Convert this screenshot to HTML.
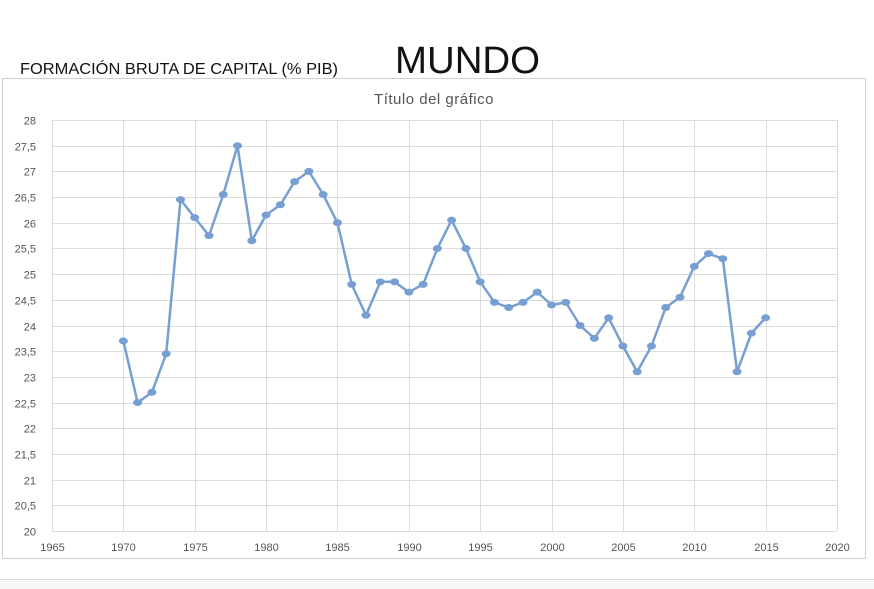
<!DOCTYPE html>
<html><head><meta charset="utf-8"><style>
body{margin:0;background:#fff;width:874px;height:589px;overflow:hidden}
svg{display:block}
text{font-family:"Liberation Sans",sans-serif}
</style></head><body>
<svg width="874" height="589" viewBox="0 0 874 589" xmlns="http://www.w3.org/2000/svg">
<rect width="874" height="589" fill="#fff"/>
<text x="20" y="74" font-size="16" fill="#111" textLength="318" lengthAdjust="spacingAndGlyphs">FORMACIÓN BRUTA DE CAPITAL  (% PIB)</text>
<text x="395" y="73" font-size="38" fill="#111" textLength="145" lengthAdjust="spacingAndGlyphs">MUNDO</text>
<rect x="2.5" y="78.5" width="863" height="480" fill="#fff" stroke="#d0d0d0"/>
<line x1="0" y1="579.5" x2="874" y2="579.5" stroke="#ddd"/>
<rect x="0" y="580" width="874" height="9" fill="#f8f8fa"/>
<text x="434" y="104" font-size="15" fill="#555" text-anchor="middle" letter-spacing="0.5">Título del gráfico</text>
<g id="grid" stroke="#dcdcdc" stroke-width="1"></g>
<g id="lab" font-size="11" fill="#555"></g>
<polyline id="ln" fill="none" stroke="#779fd2" stroke-width="2.5" stroke-linejoin="round"/>
<g id="pts" fill="#779fd2"></g>
</svg>
<script>
const X=y=>52+(y-1965)*785/55, Y=v=>531-(v-20)*411/8;
const g=document.getElementById('grid'),l=document.getElementById('lab'),ns='http://www.w3.org/2000/svg';
function el(p,t,a,txt){const e=document.createElementNS(ns,t);for(const k in a)e.setAttribute(k,a[k]);if(txt)e.textContent=txt;p.appendChild(e);}
for(let v=20;v<=28;v+=0.5){const y=Math.round(Y(v))+0.5;el(g,'line',{x1:52,x2:837,y1:y,y2:y});el(l,'text',{x:36,y:y+4,'text-anchor':'end'},String(v).replace('.',','));}
for(let yr=1965;yr<=2020;yr+=5){const x=Math.round(X(yr))+0.5;el(g,'line',{x1:x,x2:x,y1:120,y2:531});el(l,'text',{x:x,y:551,'text-anchor':'middle'},yr);}
const d=[23.7,22.5,22.7,23.45,26.45,26.1,25.75,26.55,27.5,25.65,26.15,26.35,26.8,27.0,26.55,26.0,24.8,24.2,24.85,24.85,24.65,24.8,25.5,26.05,25.5,24.85,24.45,24.35,24.45,24.65,24.4,24.45,24.0,23.75,24.15,23.6,23.1,23.6,24.35,24.55,25.15,25.4,25.3,23.1,23.85,24.15];
const pts=d.map((v,i)=>X(1970+i).toFixed(1)+','+Y(v).toFixed(1));
document.getElementById('ln').setAttribute('points',pts.join(' '));
const p=document.getElementById('pts');
d.forEach((v,i)=>el(p,'ellipse',{cx:X(1970+i),cy:Y(v),rx:4.5,ry:3.5}));
</script>
</body></html>
